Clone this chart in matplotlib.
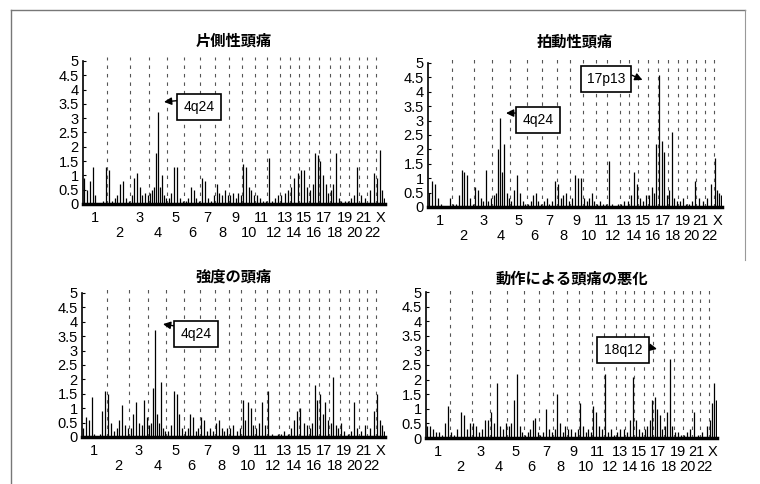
import numpy as np
import matplotlib.pyplot as plt
from matplotlib.lines import Line2D

plt.rcParams['font.family'] = ['Liberation Sans', 'Noto Sans CJK JP', 'DejaVu Sans']
plt.rcParams['lines.scale_dashes'] = False

# 染色体と長さ (cM, おおよそ)
chrom_names = [str(i) for i in range(1, 23)] + ['X']
chrom_len = [285, 265, 220, 210, 200, 185, 175, 160, 150, 155, 140, 145,
             115, 110, 115, 115, 125, 120, 110, 110, 100, 105, 100]

# LOD スコア (染色体ごと、図から読み取り)
lod_unilateral = [
    [0.9, 0.5, 0.8, 1.3, 0.3, 0.05, 0.05, 0.1, 1.3],
    [1.2, 0.1, 0.2, 0.3, 0.7, 0.8, 0.2, 0.1],
    [0.3, 0.9, 1.1, 0.6, 0.3, 0.4, 0.3],
    [0.4, 0.5, 0.6, 1.8, 3.2, 0.6, 1.0, 0.3, 0.2],
    [0.2, 0.4, 1.3, 1.3, 0.2, 0.1],
    [0.1, 0.2, 0.6, 0.5, 0.2, 0.1],
    [0.9, 0.8, 0.2, 0.1, 0.3],
    [0.7, 0.4, 0.3, 0.5, 0.3],
    [0.3, 0.4, 0.2, 0.4, 0.3],
    [1.4, 1.3, 0.6, 0.5, 0.3],
    [0.3, 0.2, 0.1, 0.1],
    [1.6, 0.1, 0.2, 0.3],
    [0.3, 0.4, 0.5],
    [0.6, 0.9, 1.1],
    [1.2, 1.2, 0.6],
    [0.5, 0.7, 1.8, 1.7],
    [1.5, 1.0, 0.7, 0.4],
    [0.5, 0.7, 1.8, 0.2],
    [0.1, 0.1, 0.1],
    [0.2, 0.3, 1.3],
    [0.3, 0.2],
    [0.5, 1.1],
    [0.9, 1.9, 0.5, 0.2],
]

lod_pulsating = [
    [0.5, 0.9, 0.8, 0.3, 0.1, 0.05, 0.05, 0.3],
    [0.1, 0.1, 0.4, 1.3, 1.2, 1.1, 0.3, 0.1],
    [0.7, 0.6, 0.3, 0.2, 1.3, 0.2, 0.3],
    [0.4, 0.5, 2.0, 3.1, 1.2, 2.2, 0.5, 0.3],
    [0.2, 0.6, 1.1, 0.5, 0.2, 0.1],
    [0.1, 0.2, 0.4, 0.5, 0.2, 0.1],
    [0.2, 0.3, 0.1, 0.2, 0.9],
    [0.8, 0.3, 0.4, 0.5, 0.2],
    [0.3, 1.1, 1.0, 1.0],
    [0.3, 0.2, 0.3, 0.5, 0.2],
    [0.1, 0.2, 0.1, 0.1],
    [1.6, 0.1, 0.05, 0.1],
    [0.1, 0.2, 0.2],
    [0.4, 1.2, 0.8],
    [0.3, 0.2, 0.4],
    [0.4, 0.7, 0.5, 2.2],
    [4.6, 2.3, 1.9, 0.4],
    [0.6, 2.6, 0.3, 0.2],
    [0.2, 0.3, 0.1],
    [0.1, 0.2, 0.9],
    [0.3, 0.2],
    [0.3, 0.8],
    [1.7, 0.6, 0.5, 0.4],
]

lod_severity = [
    [0.3, 0.7, 0.6, 1.4, 0.1, 0.05, 0.1, 0.9, 1.6],
    [1.5, 0.5, 0.2, 0.3, 0.6, 1.1, 0.4, 0.3],
    [0.3, 0.8, 1.2, 0.5, 0.4, 1.3, 0.7],
    [0.4, 0.5, 1.7, 3.7, 0.8, 0.5, 1.9, 0.3, 0.2],
    [0.2, 0.4, 1.6, 1.5, 0.8, 0.3],
    [0.2, 0.3, 0.8, 0.7, 0.2, 0.3],
    [0.7, 0.6, 0.2, 0.3, 0.2],
    [0.5, 0.6, 0.3, 0.2, 0.3],
    [0.3, 0.4, 0.2, 0.3],
    [1.3, 0.6, 1.2, 1.0, 0.4],
    [0.3, 0.5, 1.2, 0.4],
    [1.6, 0.1, 0.05, 0.1],
    [0.1, 0.2, 0.1],
    [0.3, 0.6, 0.9],
    [1.0, 0.5, 0.4],
    [0.3, 0.5, 1.8, 1.3],
    [1.5, 0.8, 1.2, 0.6],
    [0.5, 2.1, 0.4, 0.3],
    [0.5, 0.2, 0.1],
    [0.2, 1.2, 0.3],
    [0.2, 0.4],
    [0.3, 0.9],
    [1.5, 0.6, 0.4, 0.2],
]

lod_movement = [
    [0.4, 0.4, 0.3, 0.2, 0.2, 0.1, 0.5, 1.1],
    [0.2, 0.1, 0.3, 0.9, 0.8, 0.3, 0.5],
    [0.5, 0.4, 0.2, 0.3, 0.6, 0.6],
    [0.9, 0.5, 1.9, 0.4, 0.3, 0.5],
    [0.4, 0.5, 1.3, 2.2, 0.4, 0.2],
    [0.1, 0.2, 0.3, 0.6, 0.7, 0.2],
    [0.1, 0.2, 1.0, 0.3, 0.2],
    [0.3, 1.5, 0.5, 0.2, 0.4],
    [0.3, 0.3, 0.2, 0.3],
    [1.2, 0.4, 0.2, 0.3, 0.2],
    [1.1, 0.9, 0.4, 0.3],
    [2.2, 0.2, 0.3, 0.1],
    [0.2, 0.3, 0.3],
    [0.2, 0.6, 2.1],
    [0.6, 0.3, 0.2],
    [0.3, 0.4, 0.6, 1.3],
    [1.4, 1.0, 0.8, 0.3],
    [0.4, 0.9, 2.7, 0.4],
    [0.2, 0.2, 0.1],
    [0.1, 0.2, 0.3],
    [0.9, 0.1],
    [0.2, 0.4],
    [0.6, 1.2, 1.9, 1.3],
]

titles = ['片側性頭痛', '拍動性頭痛', '強度の頭痛', '動作による頭痛の悪化']
ytick_vals = [0, 0.5, 1, 1.5, 2, 2.5, 3, 3.5, 4, 4.5, 5]
ytick_labels = ['0', '0.5', '1', '1.5', '2', '2.5', '3', '3.5', '4', '4.5', '5']

W, H = 760, 484
fig = plt.figure(figsize=(7.6, 4.84), dpi=100)

# 外枠 (スキャンの枠線)
fig.add_artist(Line2D([11 / W, 745 / W], [1 - 10 / H, 1 - 10 / H], color='#777', lw=1))
fig.add_artist(Line2D([11 / W, 11 / W], [1 - 10 / H, 0.0], color='#777', lw=1))
fig.add_artist(Line2D([745 / W, 745 / W], [1 - 10 / H, 1 - 260 / H], color='#999', lw=0.8))

boxes = [
    [83 / W, 1 - 204 / H, 302 / W, 143 / H],
    [428 / W, 1 - 207 / H, 294 / W, 144 / H],
    [82 / W, 1 - 437 / H, 303 / W, 144 / H],
    [426 / W, 1 - 438 / H, 291 / W, 146 / H],
]
panels = [lod_unilateral, lod_pulsating, lod_severity, lod_movement]
title_pads = [11, 12, 8, 6]

ends = np.cumsum(chrom_len)
starts = ends - np.array(chrom_len)
total = ends[-1]
k = total / 3550  # 注記の位置を軸の長さに合わせる

# 注記: (テキスト, 箱の位置, 矢印の先, 矢印の出発点)
notes = [
    [('4q24', (1364 * k, 3.39), (952 * k, 3.57), (0, 1))],
    [('4q24', (1328 * k, 3.02), (942 * k, 3.26), (0, 1)),
     ('17p13', (2149 * k, 4.44), (2590 * k, 4.41), (1, 1))],
    [('4q24', (1336 * k, 3.58), (949 * k, 3.92), (0, 1))],
    [('18q12', (2403 * k, 3.01), (2818 * k, 3.05), (1, 0.8))],
]

for box, lod, title, pad, nl in zip(boxes, panels, titles, title_pads, notes):
    ax = fig.add_axes(box)
    for s, L, vals in zip(starts, chrom_len, lod):
        n = len(vals)
        xs = s + (np.arange(n) + 0.5) * L / n
        ax.vlines(xs, 0, vals, color='black', lw=0.9)
    # 染色体の境界 (破線)
    for b in ends[:-1]:
        ax.plot([b, b], [0, 5.15], color='#555', lw=0.8,
                ls=(0, (2.5, 3.6)), clip_on=False)

    ax.set_xlim(0, total)
    ax.set_ylim(0, 5)
    ax.set_yticks(ytick_vals)
    ax.set_yticklabels(ytick_labels)
    ax.set_xticks([])
    ax.tick_params(axis='y', length=2, direction='in', pad=3, labelsize=10.5)
    for side in ['top', 'right']:
        ax.spines[side].set_visible(False)
    ax.spines['left'].set_linewidth(1.2)
    ax.spines['bottom'].set_linewidth(2.5)

    # 染色体番号 (奇数は上段、偶数は下段)
    for i, name in enumerate(chrom_names):
        c = (starts[i] + ends[i]) / 2
        dy = -10 if i % 2 == 0 else -21
        ax.annotate(name, xy=(c, 0), xycoords=ax.get_xaxis_transform(),
                    xytext=(0, dy), textcoords='offset points',
                    ha='center', va='center', fontsize=10.5)

    ax.set_title(title, fontsize=11, fontweight='bold', pad=pad)

    for text, txy, tip, rp in nl:
        ax.annotate(text, xy=tip, xytext=txy, ha='center', va='center',
                    fontsize=10,
                    bbox=dict(boxstyle='square,pad=0.45', fc='white', ec='black', lw=1.2),
                    arrowprops=dict(arrowstyle='-|>', color='black', lw=1,
                                    mutation_scale=11, relpos=rp, shrinkA=0, shrinkB=0))

fig.savefig('out.png', dpi=100)
